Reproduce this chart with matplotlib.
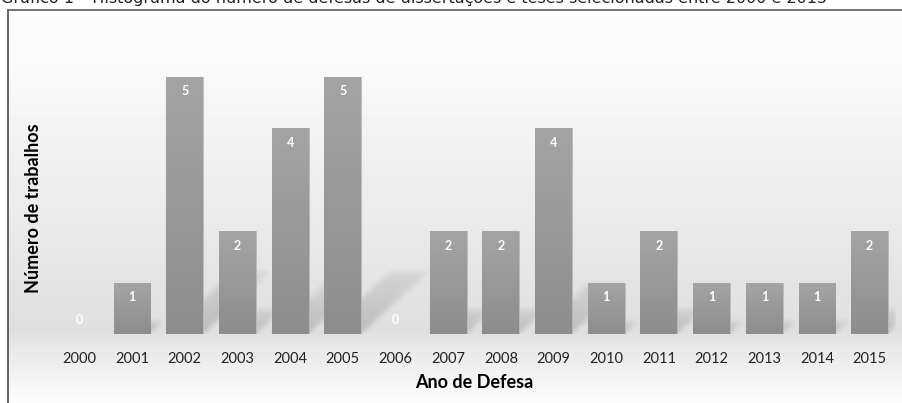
import numpy as np
from matplotlib import pyplot as plt
from matplotlib.colors import LinearSegmentedColormap

anos = ['2000', '2001', '2002', '2003', '2004', '2005', '2006', '2007',
        '2008', '2009', '2010', '2011', '2012', '2013', '2014', '2015']
trabalhos = [0, 1, 5, 2, 4, 5, 0, 2, 2, 4, 1, 2, 1, 1, 1, 2]

titulo = ('Gráfico 1 – Histograma do número de defesas de dissertações '
          'e teses selecionadas entre 2000 e 2015')

plt.rcParams['font.family'] = ['Lato', 'DejaVu Sans']

fig = plt.figure(figsize=(9.02, 4.03), dpi=100)
W, H = 902, 403

# fundo em degrade (branco -> cinza no eixo -> branco)
bg = fig.add_axes([8 / W, 0, 1 - 8 / W, (H - 10) / H], zorder=0)
rows = np.arange(H - 10)
prof = np.interp(rows, [0, 60, 320, 335, 393], [0.985, 0.975, 0.875, 0.905, 0.99])
bg.imshow(prof[:, None], cmap='gray', vmin=0, vmax=1, aspect='auto',
          extent=[0, 1, 0, 1], origin='upper')
bg.set_xlim(0, 1)
bg.set_ylim(0, 1)
bg.axis('off')

# bordas do quadro
fig.add_artist(plt.Line2D([8 / W, 8 / W], [0, (H - 10) / H], color='#555555', lw=1.3))
fig.add_artist(plt.Line2D([8 / W, 1], [(H - 10) / H, (H - 10) / H], color='#666666', lw=1.3))

# titulo cortado no topo
fig.text(1 / W, 1 + 2 / H, titulo, fontsize=11.5, family='DejaVu Sans',
         ha='left', va='center', color='#222222')

ax = fig.add_axes([53 / W, (H - 334) / H, (896 - 53) / W, (334 - 36) / H], zorder=1)
ax.patch.set_alpha(0)
x = np.arange(len(anos))
larg = 0.7
xmin, xmax, ymax = -0.5, len(anos) - 0.5, 5.8


def blur(a, k):
    ker = np.ones(k) / k
    for _ in range(3):
        a = np.apply_along_axis(lambda r: np.convolve(r, ker, mode='same'), 1, a)
        a = np.apply_along_axis(lambda c: np.convolve(c, ker, mode='same'), 0, a)
    return a


# sombras em perspectiva (mascara desfocada)
gx = np.linspace(xmin, xmax, 843)
gy = np.linspace(0, ymax, 298)
X, Y = np.meshgrid(gx, gy)
alfa = np.zeros_like(X)
for xi, v in zip(x, trabalhos):
    if v <= 0:
        continue
    hs = 0.24 * v
    ds = 0.25 * v
    desl = Y * ds / hs
    dentro = (Y <= hs) & (X >= xi - larg / 2 + desl) & (X <= xi + larg / 2 + desl)
    val = np.where(dentro, 0.16 * (1 - 0.55 * Y / hs), 0)
    alfa = np.maximum(alfa, val)
alfa = blur(alfa, 5)
rgba = np.zeros(alfa.shape + (4,))
rgba[..., 3] = alfa
ax.imshow(rgba, origin='lower', aspect='auto', extent=[xmin, xmax, 0, ymax],
          zorder=1, interpolation='bilinear')

bars = ax.bar(x, trabalhos, width=larg, color='#999999', edgecolor='#bbbbbb',
              lw=0.6, zorder=2)

cmap = LinearSegmentedColormap.from_list('barra', ['#8d8d8d', '#a4a4a4'])
grad = np.linspace(0, 1, 100)[:, None]
for b in bars:
    if b.get_height() <= 0:
        continue
    im = ax.imshow(grad, cmap=cmap, aspect='auto', origin='lower',
                   extent=[b.get_x(), b.get_x() + b.get_width(), 0, b.get_height()],
                   zorder=2.5)
    im.set_clip_path(b)

off = 0.28
for xi, v in zip(x, trabalhos):
    y = v - off if v > 0 else off
    ax.text(xi, y, str(v), ha='center', va='center', color='white',
            fontsize=9, fontweight='bold', zorder=3)

ax.set_xlim(xmin, xmax)
ax.set_ylim(0, ymax)
ax.set_xticks(x)
ax.set_xticklabels(anos, fontsize=10.5, color='#222222')
ax.set_yticks([])
ax.tick_params(axis='x', length=0, pad=13)
for s in ax.spines.values():
    s.set_visible(False)

ax.set_xlabel('Ano de Defesa', fontsize=13, fontweight='bold', labelpad=6)
fig.text(34 / W, 1 - 208 / H, 'Número de trabalhos', rotation=90, fontsize=13,
         fontweight='bold', ha='center', va='center')

fig.savefig('out.png', dpi=100)
